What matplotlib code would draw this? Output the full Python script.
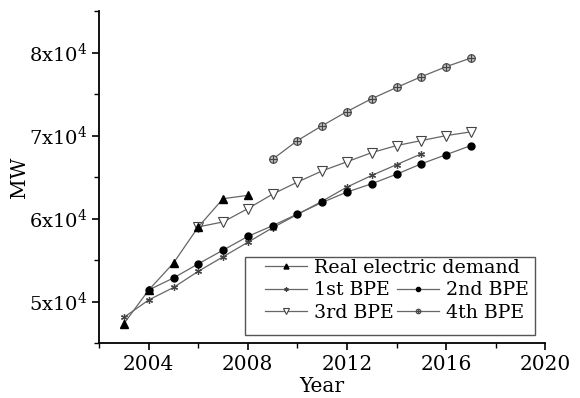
import numpy as np
import matplotlib
matplotlib.use('Agg')
import matplotlib.pyplot as plt
from matplotlib.patches import Rectangle
from matplotlib.legend_handler import HandlerTuple

plt.rcParams['font.family'] = 'DejaVu Serif'
plt.rcParams['mathtext.fontset'] = 'dejavuserif'

# values (MW)
years_real = [2003, 2004, 2005, 2006, 2007, 2008]
real = [47350, 51400, 54650, 59000, 62400, 62800]

years_1st = list(range(2003, 2016))
bpe1 = [48100, 50200, 51700, 53650, 55400, 57150, 58900, 60500, 62100, 63800, 65200, 66500, 67800]

years_2nd = list(range(2004, 2018))
bpe2 = [51400, 52850, 54550, 56200, 57850, 59150, 60550, 61950, 63200, 64200, 65350, 66600, 67700, 68800]

years_3rd = list(range(2006, 2018))
bpe3 = [59000, 59600, 61200, 62950, 64400, 65750, 66850, 67950, 68800, 69400, 70000, 70450]

years_4th = list(range(2009, 2018))
bpe4 = [67150, 69400, 71200, 72900, 74450, 75800, 77100, 78300, 79350]

yticks = [50000, 60000, 70000, 80000]
ytick_labels = ['5x10$^4$', '6x10$^4$', '7x10$^4$', '8x10$^4$']
xticks = [2004, 2008, 2012, 2016, 2020]

line_c = '#666666'

fig = plt.figure(figsize=(5.8, 3.98), dpi=100)
ax = fig.add_axes([0.171, 0.138, 0.769, 0.834])

h_real, = ax.plot(years_real, real, '-', color=line_c, lw=0.9, marker='^',
                  ms=6, mfc='black', mec='black', zorder=5)
h1, = ax.plot(years_1st, bpe1, '-', color=line_c, lw=0.9, marker=(6, 2, 0),
              ms=5, mec='#444444', mew=0.9)
h2, = ax.plot(years_2nd, bpe2, '-', color=line_c, lw=0.9, marker='o',
              ms=5, mfc='black', mec='black')
h3, = ax.plot(years_3rd, bpe3, '-', color=line_c, lw=0.9, marker='v',
              ms=6.5, mfc='white', mec='#444444', mew=0.8)
h4, = ax.plot(years_4th, bpe4, '-', color=line_c, lw=0.9, marker='o',
              ms=5.5, mfc='#bbbbbb', mec='#444444', mew=0.8)
h4p, = ax.plot(years_4th, bpe4, ls='none', marker='+', ms=5.5,
               mec='#444444', mew=0.8)

ax.set_xlim(2002, 2020)
ax.set_ylim(45000, 85000)
ax.set_xticks(xticks)
ax.set_xticks(np.arange(2002, 2020, 2), minor=True)
ax.set_yticks(yticks)
ax.set_yticklabels(ytick_labels)
ax.set_yticks(np.arange(45000, 85001, 5000), minor=True)

for s in ['top', 'right']:
    ax.spines[s].set_visible(False)
for s in ['left', 'bottom']:
    ax.spines[s].set_linewidth(1.3)
ax.tick_params(which='major', direction='out', length=5, width=1.2, labelsize=14)
ax.tick_params(axis='x', labelsize=14.5)
ax.tick_params(which='minor', direction='out', length=3.5, width=1.0)

ax.set_xlabel('Year', fontsize=14.5, labelpad=2)
ax.set_ylabel('MW', fontsize=14.5, labelpad=0)

# legend: one row for real demand, then two columns, in one shared frame
ax.add_patch(Rectangle((0.327, 0.024), 0.651, 0.235, transform=ax.transAxes,
                       fill=False, ec='#555555', lw=1.0, zorder=6))
leg_kw = dict(frameon=False, fontsize=13.7, handlelength=2.2, handletextpad=0.35,
              borderaxespad=0, borderpad=0, markerscale=0.6, labelspacing=0.22)
leg1 = ax.legend([h_real], ['Real electric demand'], loc='center left',
                 bbox_to_anchor=(0.372, 0.226), **leg_kw)
ax.add_artist(leg1)
ax.legend([h1, h3, h2, (h4, h4p)], ['1st BPE', '3rd BPE', '2nd BPE', '4th BPE'],
          ncol=2, loc='center left', bbox_to_anchor=(0.372, 0.125),
          columnspacing=0.2, handler_map={tuple: HandlerTuple(ndivide=1)},
          **leg_kw)

fig.savefig('out.png', dpi=100)
